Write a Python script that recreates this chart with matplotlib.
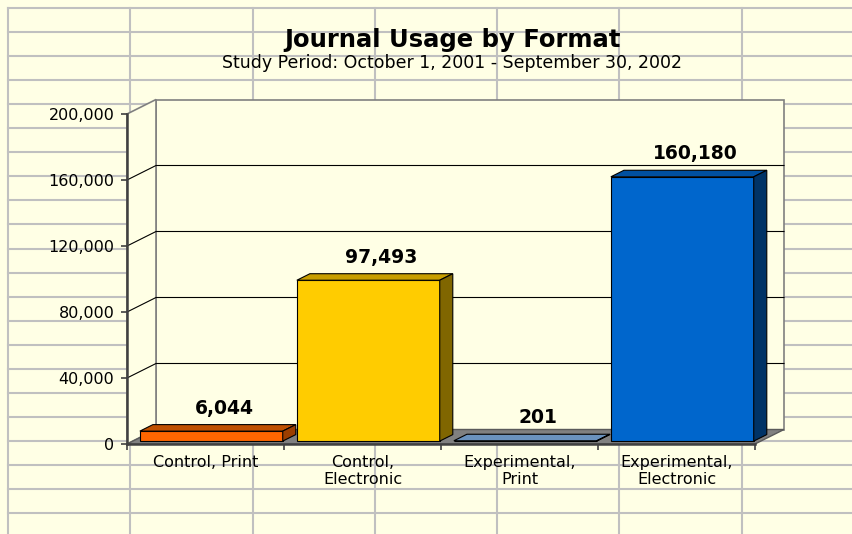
import numpy as np
import matplotlib
matplotlib.use('Agg')
import matplotlib.pyplot as plt
from matplotlib.patches import Polygon

# data
categories = ['Control, Print', 'Control,\nElectronic', 'Experimental,\nPrint', 'Experimental,\nElectronic']
usage = [6044, 97493, 201, 160180]
y_ticks = [0, 40000, 80000, 120000, 160000, 200000]

front_colors = ['#FF6600', '#FFCC00', '#7399C6', '#0066CC']
top_colors = ['#C05000', '#C89E00', '#6A92BE', '#0050A0']
side_colors = ['#9C3E00', '#806600', '#4A6E96', '#003366']

bg = '#FFFFE5'
W, H = 853, 534

plt.rcParams['font.family'] = ['DejaVu Sans']
fig = plt.figure(figsize=(W / 100, H / 100), dpi=100, facecolor=bg)

# spreadsheet cells behind the chart
ax_bg = fig.add_axes([0, 0, 1, 1])
ax_bg.set_xlim(0, W)
ax_bg.set_ylim(H, 0)
ax_bg.axis('off')
for k in range(7):
    xc = 8 + 122.3 * k
    ax_bg.plot([xc, xc], [8, H], color='#C0C0C0', lw=1.5)
for k in range(22):
    yc = 8 + 24.05 * k
    ax_bg.plot([8, W], [yc, yc], color='#C0C0C0', lw=1.5)

# front plane of the 3d plot
left, right, top, bottom = 127, 755, 114, 444
ax = fig.add_axes([left / W, 1 - bottom / H, (right - left) / W, (bottom - top) / H])
ax.set_facecolor('none')
ax.set_xlim(-0.5, 3.5)
ax.set_ylim(0, 200000)

# depth vector in data units
dx = 29 * 4 / (right - left)
dy = 14.5 * 200000 / (bottom - top)
ymax = y_ticks[-1]

wall_kw = dict(facecolor=bg, edgecolor='#808080', lw=1.2, clip_on=False)
ax.add_patch(Polygon([(-0.5 + dx, dy), (3.5 + dx, dy), (3.5 + dx, ymax + dy), (-0.5 + dx, ymax + dy)], zorder=1, **wall_kw))
ax.add_patch(Polygon([(-0.5, 0), (-0.5 + dx, dy), (-0.5 + dx, ymax + dy), (-0.5, ymax)], zorder=1, **wall_kw))
ax.add_patch(Polygon([(-0.5, 0), (3.5, 0), (3.5 + dx, dy), (-0.5 + dx, dy)],
                     facecolor='#808080', edgecolor='#5A5A5A', lw=1, clip_on=False, zorder=1.2))

for v in y_ticks[1:-1]:
    ax.plot([-0.5, -0.5 + dx, 3.5 + dx], [v, v + dy, v + dy], color='black', lw=0.8,
            clip_on=False, zorder=1.1)

# bars
w = 0.91
t1, t2 = 0.2, 0.65
xs = np.arange(len(categories))
ax.bar(xs + t1 * dx, usage, width=w, bottom=t1 * dy, color=front_colors,
       edgecolor='black', lw=0.8, zorder=3, clip_on=False)
ddx, ddy = (t2 - t1) * dx, (t2 - t1) * dy
for i, v in enumerate(usage):
    x0 = i - w / 2 + t1 * dx
    x1 = i + w / 2 + t1 * dx
    y0 = t1 * dy
    y1 = v + t1 * dy
    ax.add_patch(Polygon([(x0, y1), (x1, y1), (x1 + ddx, y1 + ddy), (x0 + ddx, y1 + ddy)],
                         facecolor=top_colors[i], edgecolor='black', lw=0.8, zorder=3, clip_on=False))
    ax.add_patch(Polygon([(x1, y0), (x1, y1), (x1 + ddx, y1 + ddy), (x1 + ddx, y0 + ddy)],
                         facecolor=side_colors[i], edgecolor='black', lw=0.8, zorder=3, clip_on=False))
    ax.annotate(f'{v:,}', (i + t2 * dx, v + t2 * dy), xytext=(0, 5), textcoords='offset points',
                ha='center', va='bottom', fontsize=13.5, fontweight='bold', zorder=4)

# axes styling
for s in ['top', 'right']:
    ax.spines[s].set_visible(False)
for s in ['left', 'bottom']:
    ax.spines[s].set_color('#404040')
    ax.spines[s].set_linewidth(1.8)
    ax.spines[s].set_zorder(2.5)

ax.set_yticks(y_ticks)
ax.set_yticklabels([f'{v:,}' for v in y_ticks])
ax.tick_params(axis='y', length=4, width=1.2, color='#404040', pad=5, labelsize=11.5)

ax.set_xticks(xs)
ax.set_xticklabels(categories, fontsize=11.5, linespacing=1.15)
ax.set_xticks(np.arange(-0.5, 4, 1), minor=True)
ax.tick_params(axis='x', which='major', length=0, pad=8)
ax.tick_params(axis='x', which='minor', length=4, width=1.2, color='#404040')

fig.text(453 / W, 1 - 40 / H, 'Journal Usage by Format', ha='center', va='center',
         fontsize=17.5, fontweight='bold')
fig.text(452 / W, 1 - 63 / H, 'Study Period: October 1, 2001 - September 30, 2002',
         ha='center', va='center', fontsize=12.5)

fig.savefig('out.png', dpi=100, facecolor=bg)
